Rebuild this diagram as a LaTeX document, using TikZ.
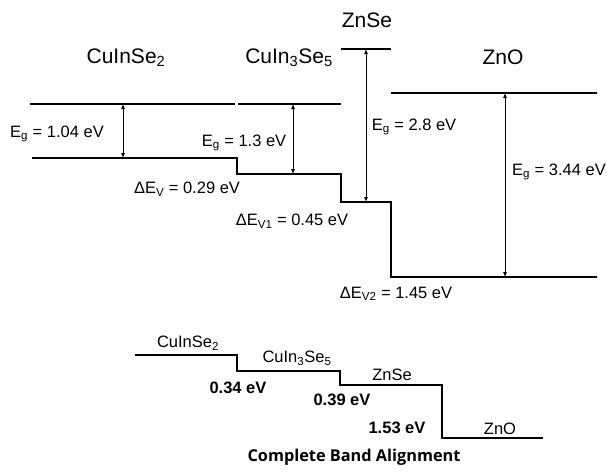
\documentclass[tikz,border=0pt]{standalone}
\usepackage{fontspec}
\setmainfont{Liberation Sans}
\newfontfamily\capfont{Open Sans}
\usetikzlibrary{arrows.meta}
\begin{document}
\begin{tikzpicture}[x=1pt,y=-1pt,
  band/.style={line width=2pt},
  vband/.style={line width=2.6pt,line join=miter},
  gap/.style={line width=0.8pt,{Latex[length=5pt,width=4pt]}-{Latex[length=5pt,width=4pt]}},
  ttl/.style={font=\fontsize{21}{25}\selectfont,inner sep=0pt},
  lbl/.style={font=\fontsize{16.5}{20}\selectfont,inner sep=0pt},
  slbl/.style={font=\fontsize{16.5}{20}\selectfont,inner sep=0pt},
  blbl/.style={font=\fontsize{16.5}{20}\selectfont\bfseries,inner sep=0pt},
  captext/.style={font=\capfont\fontsize{16.3}{19}\selectfont\bfseries,inner sep=0pt}]
\useasboundingbox (0,0) rectangle (607,471);
% top: band lines
\coordinate (c1a) at (30,104); \coordinate (c1b) at (235,104);
\coordinate (c2a) at (238,104); \coordinate (c2b) at (341,104);
\coordinate (c3a) at (341,49); \coordinate (c3b) at (391,49);
\coordinate (c4a) at (391,93); \coordinate (c4b) at (597,93);
\draw[band] (c1a) -- (c1b);
\draw[band] (c2a) -- (c2b);
\draw[band] (c3a) -- (c3b);
\draw[band] (c4a) -- (c4b);
\coordinate (v0) at (32,158);
\coordinate (v1) at (237,158);
\coordinate (v2) at (237,174);
\coordinate (v3) at (341,174);
\coordinate (v4) at (341,202);
\coordinate (v5) at (391,202);
\coordinate (v6) at (391,277);
\coordinate (v7) at (597,277);
\draw[vband] (v0) -- (v1) -- (v2) -- (v3) -- (v4) -- (v5) -- (v6) -- (v7);
% gap arrows
\coordinate (g1t) at (123,104); \coordinate (g1b) at (123,158);
\coordinate (g2t) at (293,104); \coordinate (g2b) at (293,174);
\coordinate (g3t) at (366,49);  \coordinate (g3b) at (366,202);
\coordinate (g4t) at (505,93);  \coordinate (g4b) at (505,277);
\draw[gap] (g1b) -- (g1t);
\draw[gap] (g2b) -- (g2t);
\draw[gap] (g3b) -- (g3t);
\draw[gap] (g4b) -- (g4t);
% titles
\node[ttl] (t1) at (126,58) {CuInSe\textsubscript{2}};
\node[ttl] (t2) at (289,58) {CuIn\textsubscript{3}Se\textsubscript{5}};
\node[ttl] (t3) at (367,20) {ZnSe};
\node[ttl] (t4) at (503,57) {ZnO};
% labels
\node[lbl] (e1) at (57,134) {E\textsubscript{g} = 1.04 eV};
\node[lbl] (e2) at (244,143) {E\textsubscript{g} = 1.3 eV};
\node[lbl] (e3) at (414,127) {E\textsubscript{g} = 2.8 eV};
\node[lbl] (e4) at (559,172) {E\textsubscript{g} = 3.44 eV};
\node[lbl] (d1) at (187,189) {ΔE\textsubscript{V} = 0.29 eV};
\node[lbl] (d2) at (292,221) {ΔE\textsubscript{V1} = 0.45 eV};
\node[lbl] (d3) at (396,294) {ΔE\textsubscript{V2} = 1.45 eV};
% bottom diagram
\coordinate (b0) at (135,355);
\coordinate (b1) at (237,355);
\coordinate (b2) at (237,371);
\coordinate (b3) at (340,371);
\coordinate (b4) at (340,385);
\coordinate (b5) at (442,385);
\coordinate (b6) at (442,438);
\coordinate (b7) at (543,438);
\draw[vband] (b0) -- (b1) -- (b2) -- (b3) -- (b4) -- (b5) -- (b6) -- (b7);
\node[slbl] (s1) at (188,343) {CuInSe\textsubscript{2}};
\node[slbl] (s2) at (297,358) {CuIn\textsubscript{3}Se\textsubscript{5}};
\node[slbl] (s3) at (392,375) {ZnSe};
\node[slbl] (s4) at (500,429) {ZnO};
\node[blbl] (o1) at (238,388) {0.34 eV};
\node[blbl] (o2) at (342,400) {0.39 eV};
\node[blbl] (o3) at (397,428) {1.53 eV};
\node[captext] (cp) at (354,457) {Complete Band Alignment};
\end{tikzpicture}
\end{document}
